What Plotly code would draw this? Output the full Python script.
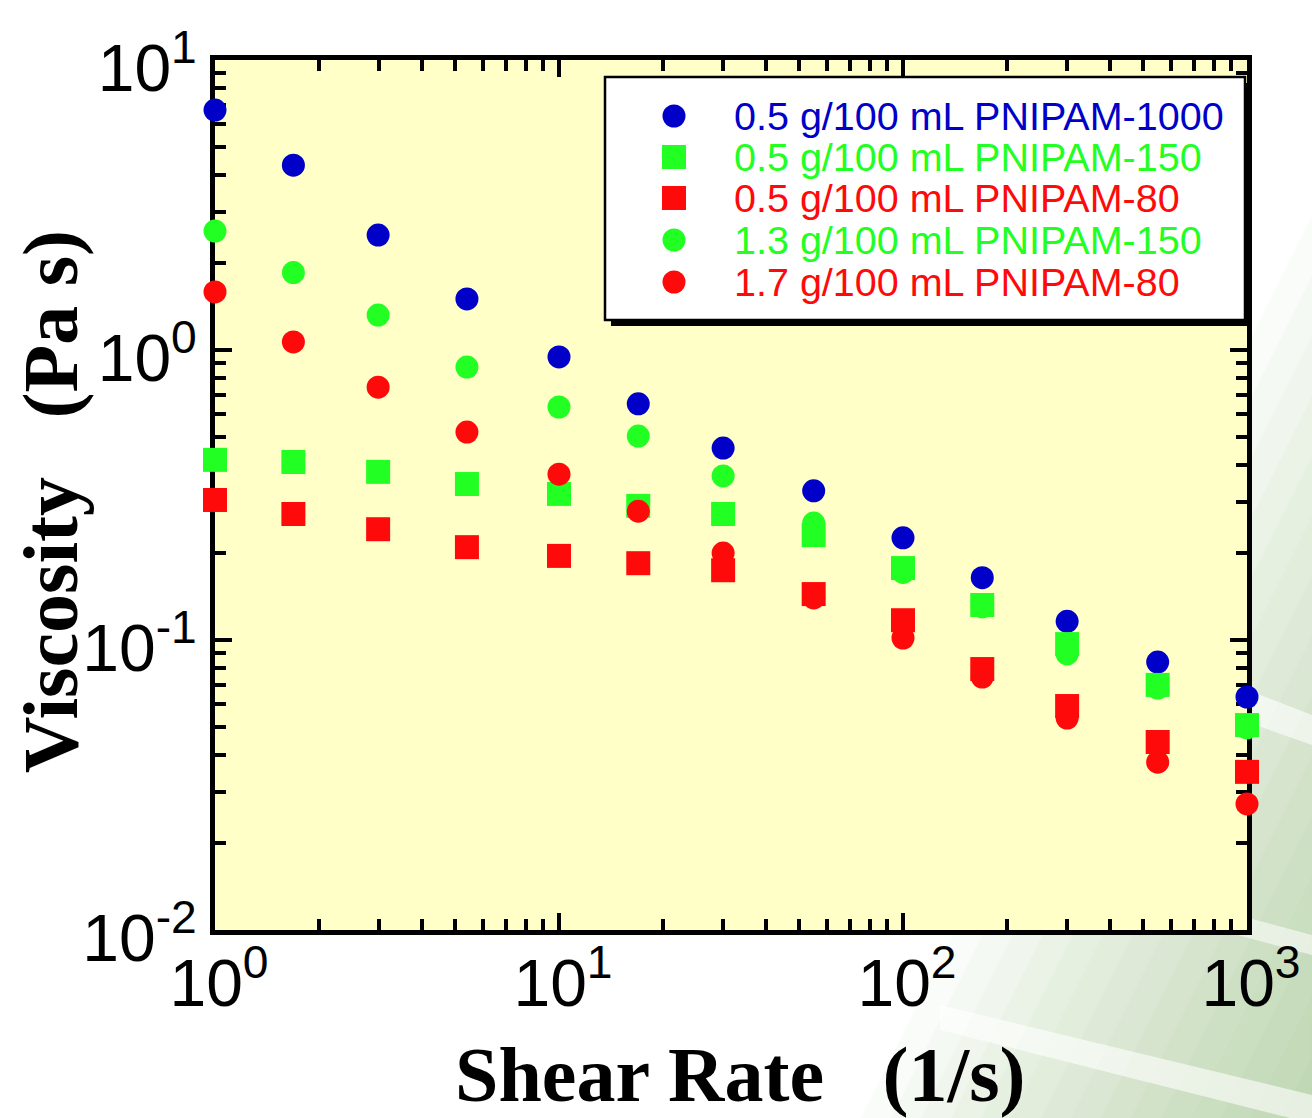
import plotly.graph_objects as go

# ---------------- data ----------------
shear_rate = [1, 1.69, 2.98, 5.4, 10, 17, 30, 55, 100, 170, 300, 550, 1000]

visc_05_p1000 = [6.72, 4.34, 2.49, 1.50, 0.946, 0.652, 0.459, 0.327, 0.225, 0.164, 0.116, 0.0839, 0.0636]
visc_05_p150 = [0.418, 0.411, 0.380, 0.345, 0.319, 0.290, 0.272, 0.230, 0.177, 0.132, 0.0968, 0.070, 0.0509]
visc_05_p80 = [0.304, 0.272, 0.241, 0.209, 0.195, 0.184, 0.174, 0.144, 0.117, 0.0794, 0.0592, 0.0445, 0.0351]
visc_13_p150 = [2.57, 1.85, 1.32, 0.873, 0.636, 0.505, 0.368, 0.253, 0.171, 0.130, 0.0895, 0.0683, 0.0498]
visc_17_p80 = [1.585, 1.066, 0.744, 0.521, 0.373, 0.278, 0.1995, 0.1397, 0.1016, 0.0745, 0.0538, 0.0379, 0.0272]

series_names = [
    "0.5 g/100 mL PNIPAM-1000",
    "0.5 g/100 mL PNIPAM-150",
    "0.5 g/100 mL PNIPAM-80",
    "1.3 g/100 mL PNIPAM-150",
    "1.7 g/100 mL PNIPAM-80",
]
series_values = [visc_05_p1000, visc_05_p150, visc_05_p80, visc_13_p150, visc_17_p80]
series_colors = ["#0000C8", "#22FF22", "#FF0A0A", "#22FF22", "#FF0A0A"]
series_symbols = ["circle", "square", "square", "circle", "circle"]

x_tickvals = [1, 10, 100, 1000]
x_ticktext = ["10<sup>0</sup>", "10<sup>1</sup>", "10<sup>2</sup>", "10<sup>3</sup>"]
y_tickvals = [0.01, 0.1, 1, 10]
y_ticktext = ["10<sup>-2</sup>", "10<sup>-1</sup>", "10<sup>0</sup>", "10<sup>1</sup>"]

# ---------------- layout geometry ----------------
W, H = 1312, 1118
L, R, T, B = 215, 65, 60, 188
PW, PH = W - L - R, H - T - B


def px(x):
    return (x - L) / PW


def py(y):
    return (H - B - y) / PH


fig = go.Figure()

for name, vals, col, sym in zip(series_names, series_values, series_colors, series_symbols):
    fig.add_trace(go.Scatter(
        x=shear_rate, y=vals, mode="markers", name=name,
        marker=dict(symbol=sym, color=col, size=24 if sym == "square" else 23,
                    line=dict(width=0)),
        cliponaxis=False, showlegend=False,
    ))

shapes = []


def poly(pts, color, opacity=1.0):
    d = "M " + " L ".join(f"{px(a):.5f},{py(b):.5f}" for a, b in pts) + " Z"
    shapes.append(dict(type="path", xref="paper", yref="paper", path=d,
                       fillcolor=color, opacity=opacity, line=dict(width=0), layer="below"))


# decorative soft green gradient at lower right (stacked translucent layers)
for c in range(1420, 1870, 30):
    poly([(c - 559, 1118), (1312, 2 * (c - 1312)), (1312, 1118)], "#7fbf5f", 0.038)
# soft white streaks
poly([(1247, 690), (1312, 715), (1312, 745), (1247, 722)], "#ffffff", 0.6)
poly([(1200, 905), (1312, 935), (1312, 955), (1200, 925)], "#ffffff", 0.55)
poly([(940, 1005), (1312, 1095), (1312, 1118), (1290, 1118), (940, 1030)], "#ffffff", 0.6)

# plot background
shapes.append(dict(type="rect", xref="paper", yref="paper", x0=0, x1=1, y0=0, y1=1,
                   fillcolor="#FFFFC8", line=dict(width=0), layer="below"))

# legend box with shadow
lx0, lx1, ly0, ly1 = 605, 1245, 77, 320
shapes.append(dict(type="rect", xref="paper", yref="paper",
                   x0=px(lx0 + 6), x1=px(lx1 + 6), y0=py(ly1 + 6), y1=py(ly0 + 6),
                   fillcolor="black", line=dict(width=0), layer="above"))
shapes.append(dict(type="rect", xref="paper", yref="paper",
                   x0=px(lx0), x1=px(lx1), y0=py(ly1), y1=py(ly0),
                   fillcolor="white", line=dict(color="black", width=2.5), layer="above"))

annotations = []
row_y = [116, 157, 198, 240, 282]
mx, tx = 674, 732
for name, col, sym, ry in zip(series_names, series_colors, series_symbols, row_y):
    half = 12 if sym == "square" else 11.5
    shapes.append(dict(type="rect" if sym == "square" else "circle",
                       xref="paper", yref="paper", xsizemode="pixel", ysizemode="pixel",
                       xanchor=px(mx), yanchor=py(ry),
                       x0=-half, x1=half, y0=-half, y1=half,
                       fillcolor=col, line=dict(width=0), layer="above"))
    annotations.append(dict(xref="paper", yref="paper", x=px(tx), y=py(ry),
                            xanchor="left", yanchor="middle", showarrow=False,
                            text=name, font=dict(family="Liberation Sans, Arial", size=39.5, color=col)))

# axis titles
annotations.append(dict(xref="paper", yref="paper", x=px(740), y=py(1074),
                        xanchor="center", yanchor="middle", showarrow=False,
                        text="<b>Shear Rate\u00a0\u00a0\u00a0(1/s)</b>",
                        font=dict(family="Liberation Serif, Times New Roman", size=78, color="black")))
annotations.append(dict(xref="paper", yref="paper", x=px(50), y=py(502),
                        xanchor="center", yanchor="middle", showarrow=False, textangle=-90,
                        text="<b>Viscosity\u00a0\u00a0\u00a0(Pa s)</b>",
                        font=dict(family="Liberation Serif, Times New Roman", size=78, color="black")))

minor_x = [m * 10 ** e for e in range(0, 3) for m in range(2, 10)]
minor_y = [m * 10 ** e for e in range(-2, 1) for m in range(2, 10)]

axis_common = dict(
    type="log", showgrid=False, zeroline=False,
    showline=True, linecolor="black", linewidth=5, mirror="allticks",
    ticks="inside", ticklen=17, tickwidth=4, tickcolor="black",
    tickfont=dict(family="Liberation Sans, Arial", size=66, color="black"),
    layer="below traces", tickmode="array",
)

fig.update_layout(
    width=W, height=H,
    margin=dict(l=L, r=R, t=T, b=B),
    paper_bgcolor="white", plot_bgcolor="rgba(0,0,0,0)",
    xaxis=dict(**axis_common, range=[0, 3], tickvals=x_tickvals, ticktext=x_ticktext,
               ticklabelstandoff=-8, ticklabelshift=4,
               minor=dict(tickmode="array", tickvals=minor_x, ticks="inside", ticklen=11,
                          tickwidth=4, tickcolor="black", showgrid=False)),
    yaxis=dict(**axis_common, range=[-2, 1], tickvals=y_tickvals, ticktext=y_ticktext,
               ticklabelstandoff=0, ticklabelshift=8,
               minor=dict(tickmode="array", tickvals=minor_y, ticks="inside", ticklen=11,
                          tickwidth=4, tickcolor="black", showgrid=False)),
    shapes=shapes, annotations=annotations, showlegend=False,
)

fig.write_html("out.html")
